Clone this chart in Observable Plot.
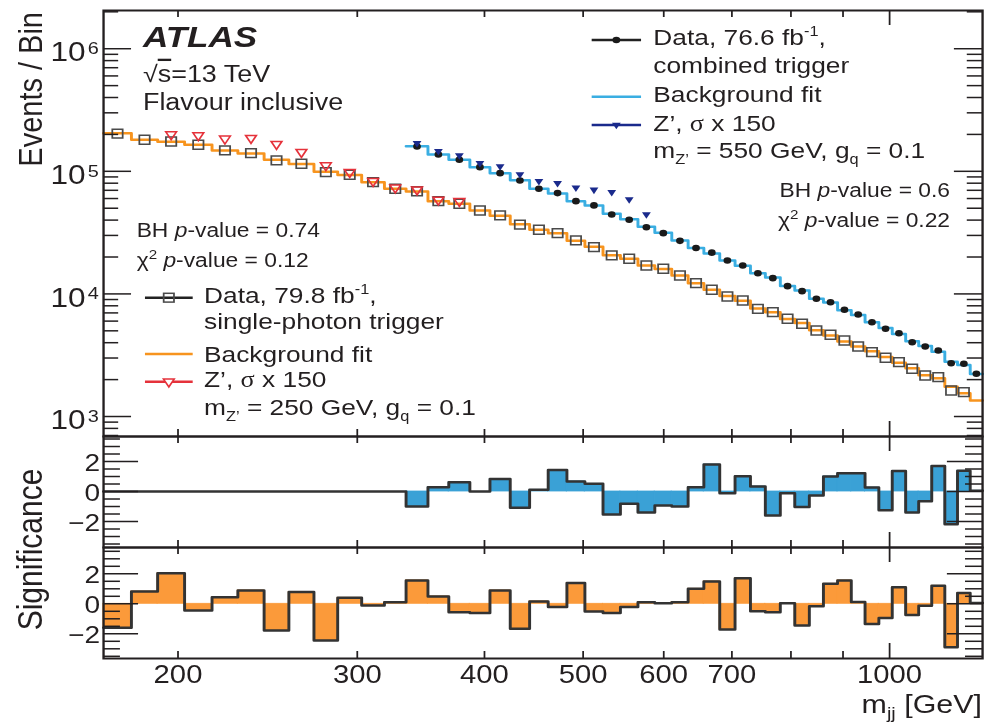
<!DOCTYPE html>
<html><head><meta charset="utf-8">
<script src="https://cdn.jsdelivr.net/npm/d3@7"></script>
<script src="https://cdn.jsdelivr.net/npm/@observablehq/plot@0.6"></script>
<style>
body{margin:0;background:#fff;}
#fig{position:relative;width:841px;height:723px;transform:scaleX(1.17);transform-origin:0 0;}
</style></head><body><div id="fig"></div>
<script>
// ---------------- data ----------------
const binEdges = [169,180,191,203,216,229,243,257,272,287,303,319,335,352,369,387,405,424,443,462,482,502,523,544,566,588,611,634,657,681,705,730,755,781,807,834,861,889,917,946,976,1006,1037,1068,1100,1133,1166,1200,1234];

// single-photon trigger (orange), bins 1..48
const photonData = [203000,181000,175000,164700,148000,140700,122700,115300,98400,93800,
 81600,72100,68800,57100,54400,47900,43700,36700,33400,31300,
 27300,24100,20600,19350,17060,16040,14140,12240,10810,9530,
 8840,7560,7100,6270,5710,5030,4640,4170,3725,3347,
 3013,2774,2450,2160,2093,1630,1579,null];
const photonFit = [204000,181000,174000,164500,148000,140000,124000,115000,99000,93500,
 81500,72000,68500,57000,54500,48000,43500,37000,33300,31300,
 27100,24200,20700,19400,17050,16000,14100,12200,10800,9600,
 8800,7600,7100,6250,5800,5050,4580,4100,3720,3400,
 3060,2740,2480,2170,2050,1750,1550,1350];
const photonZprimeStart = 2;  // first bin index with a Z' marker
const photonZprime = [200000,196100,184400,186500,166600,143400,111700,98400,83100,73500,70900,58600,57100];
const photonSignif = [-1.6,0.82,2.04,-0.44,0.44,0.89,-1.78,0.78,-2.44,0.4,
 -0.11,0.11,1.56,0.49,-0.56,-0.62,0.89,-1.67,0.16,-0.22,
 1.38,-0.51,-0.62,-0.22,0.11,0.04,0.11,1.0,1.49,-1.71,
 1.71,-0.49,-0.56,0.04,-1.44,-0.16,1.33,1.56,0.12,-1.35,
 -0.95,1.11,-0.75,-0.13,1.2,-2.89,0.72,0.05];

// combined trigger (blue), starting at bin 13
const combinedStart = 12;
const combinedData = [159500,137300,124300,108100,96600,84200,72100,66400,57100,52700,
 44500,40300,35000,31300,27100,23700,21700,18740,17060,14760,
 13440,11570,10530,9127,8560,7425,6796,5880,5195,4782,
 4039,3725,3455,2722,2692,2230];
const combinedFit = [160000,137000,124000,108100,96300,84500,72000,66000,57000,52600,
 45000,40600,35300,31500,27300,23700,21400,18760,16950,14720,
 13600,11600,10640,9150,8500,7360,6720,5860,5280,4700,
 4120,3760,3380,2800,2630,2220];
const combinedZprime = [169700,146100,134700,116600,109600,94300,83100,80100,73500,70700,67600,59000,44500];
const combinedSignif = [0,0,0,0,0,0,0,0,0,0,0,0,
 -1.0,0.29,0.62,0.0,0.84,-1.09,0.11,1.44,0.67,0.51,
 -1.53,-0.82,-1.4,-0.93,-1.0,0.29,1.8,-0.11,1.02,0.33,
 -1.6,-0.11,-1.04,-0.27,1.0,1.22,1.22,0.26,-1.25,1.36,
 -1.4,-0.65,1.7,-2.18,1.38,0.05];

// axes
const xTicks = [200,300,400,500,600,700,800,900];
const xMajorTicks = [1000];
const xTickLabels = [200,300,400,500,600,700,1000];
const yDecadeExps = [3,4,5,6];
const sigMajorTicks = [-2,0,2];
const sigTickLabels = ["−2","0","2"];
const sigMinorTicks = [-3.5,-3,-2.5,-1.5,-1,-0.5,0.5,1,1.5,2.5,3,3.5];

// ---------------- style ----------------
const FONT = '"Liberation Sans", Arial, Helvetica, sans-serif';
const INK = "#231f20";
const ORANGE = "#F7941E", ORANGE_FILL = "#FB9A3A";
const BLUE = "#3AAEE2", BLUE_FILL = "#3AA1D6";
const RED = "#E5323B", NAVY = "#1A2A8C";
const W = 841, ML = 88, MR = 1.7, FW = W - ML - MR;
const X_DOMAIN = [169, 1234];

const triDown = { draw(ctx, size) {
  const y = Math.sqrt(size / (Math.sqrt(3) * 3));
  ctx.moveTo(0, 2 * y); ctx.lineTo(-Math.sqrt(3) * y, -y); ctx.lineTo(Math.sqrt(3) * y, -y); ctx.closePath();
}};

function bins(vals, start = 0) {
  return vals.map((v, i) => ({lo: binEdges[start + i], hi: binEdges[start + i + 1], v})).filter(d => d.v != null);
}
function stepPts(b) { return b.flatMap(d => [{x: d.lo, y: d.v}, {x: d.hi, y: d.v}]); }
const center = d => Math.sqrt(d.lo * d.hi);

function xTickMarks(FH) {
  const o = {stroke: INK, strokeWidth: 1.5};
  return [
    Plot.ruleX(xTicks, {...o, insetTop: FH - 7}),
    Plot.ruleX(xTicks, {...o, insetBottom: FH - 7}),
    Plot.ruleX(xMajorTicks, {...o, insetTop: FH - 15}),
    Plot.ruleX(xMajorTicks, {...o, insetBottom: FH - 15})
  ];
}
function yTickMarks(major, minor, lenMaj, lenMin) {
  const o = {stroke: INK, strokeWidth: 1.5};
  return [
    Plot.ruleY(major, {...o, insetRight: FW - lenMaj}),
    Plot.ruleY(major, {...o, insetLeft: FW - lenMaj}),
    Plot.ruleY(minor, {...o, insetRight: FW - lenMin}),
    Plot.ruleY(minor, {...o, insetLeft: FW - lenMin})
  ];
}

const fig = document.getElementById("fig");
function panel(top, height, mt, mb, y, marks) {
  const p = Plot.plot({
    width: W, height, marginLeft: ML, marginRight: MR, marginTop: mt, marginBottom: mb,
    x: {type: "log", domain: X_DOMAIN, axis: null},
    y: {...y, axis: null},
    style: {fontFamily: FONT, background: "transparent", overflow: "visible", color: INK},
    marks
  });
  p.style.position = "absolute"; p.style.top = top + "px"; p.style.left = "0px";
  fig.appendChild(p);
}

// ---------------- top panel ----------------
const yLog = [687, 2.05e6];
const yDecades = yDecadeExps.map(e => 10 ** e);
const yMinor = d3.scaleLog().domain(yLog).ticks().filter(t => !yDecades.includes(t));
panel(0, 437, 10, 1, {type: "log", domain: yLog}, [
  Plot.line(stepPts(bins(photonFit)), {x: "x", y: "y", stroke: ORANGE, strokeWidth: 2.5}),
  Plot.line(stepPts(bins(combinedFit, combinedStart)), {x: "x", y: "y", stroke: BLUE, strokeWidth: 2.5}),
  Plot.dot(bins(photonData), {x: center, y: "v", symbol: "square", r: 5, stroke: "#4a4a4a", strokeWidth: 1.5, fill: "none"}),
  Plot.dot(bins(photonZprime, photonZprimeStart), {x: center, y: "v", symbol: triDown, r: 3.4, stroke: RED, strokeWidth: 1.5, fill: "none"}),
  Plot.dot(bins(combinedData, combinedStart), {x: center, y: "v", r: 3.3, fill: "#1a1a1a"}),
  Plot.dot(bins(combinedZprime, combinedStart), {x: center, y: "v", symbol: triDown, r: 2.8, fill: NAVY}),
  ...xTickMarks(426),
  ...yTickMarks(yDecades, yMinor, 24, 13),
  Plot.text(yDecadeExps, {y: e => 10 ** e, frameAnchor: "left", text: () => "10", textAnchor: "end", dx: -15.4, dy: 4, fontSize: 27, fill: INK}),
  Plot.text(yDecadeExps, {y: e => 10 ** e, frameAnchor: "left", text: e => String(e), textAnchor: "start", dx: -13.4, dy: 0, fontSize: 17, fill: INK}),
  Plot.frame({stroke: INK, strokeWidth: 2})
]);

// ---------------- significance panels ----------------
function sigPanel(top, height, mt, mb, domain, signif, fill, withLabels) {
  const b = bins(signif);
  const marks = [
    Plot.rect(b, {x1: "lo", x2: "hi", y1: 0, y2: "v", fill, stroke: fill, strokeWidth: 0.8}),
    Plot.line(stepPts(b), {x: "x", y: "y", stroke: "#333", strokeWidth: 2.5}),
    ...xTickMarks(111),
    ...yTickMarks(sigMajorTicks, sigMinorTicks, 30, 14.5),
    Plot.text(sigMajorTicks, {y: d => d, frameAnchor: "left", text: (d, i) => sigTickLabels[i], textAnchor: "end", dx: -3, dy: 2, fontSize: 24, fill: INK}),
    Plot.frame({stroke: INK, strokeWidth: 2})
  ];
  if (withLabels) marks.push(Plot.text(xTickLabels, {x: d => d, frameAnchor: "bottom", text: d => String(d), dy: 24, fontSize: 25, fill: INK}));
  panel(top, height, mt, mb, {domain}, marks);
}
sigPanel(435, 113, 1, 1, [-3.733, 3.667], combinedSignif, BLUE_FILL, false);
sigPanel(546, 177, 1, 65, [-3.647, 3.753], photonSignif, ORANGE_FILL, true);

// ---------------- annotations & legends ----------------
const ov = d3.select("#fig").append("svg").attr("width", W).attr("height", 723)
  .style("position", "absolute").style("top", "0px").style("left", "0px").style("overflow", "visible")
  .attr("font-family", FONT).attr("fill", INK);
function rich(x, y, parts, size, anchor = "start") {
  const t = ov.append("text").attr("x", x).attr("y", y).attr("font-size", size).attr("text-anchor", anchor);
  parts.forEach(p => {
    if (typeof p === "string") p = {t: p};
    const s = t.append("tspan").text(p.t);
    if (p.dy) s.attr("dy", p.dy);
    if (p.size) s.attr("font-size", p.size);
    if (p.italic) s.attr("font-style", "italic");
    if (p.family) s.attr("font-family", p.family);
    if (p.deco) s.style("text-decoration", p.deco);
  });
  return t;
}
const SERIF = '"Liberation Serif", "DejaVu Serif", serif';

rich(122.2, 46.7, ["ATLAS"], 30).attr("font-weight", "bold").attr("font-style", "italic");
rich(122.2, 81.7, ["√", {t: "s", deco: "overline"}, "=13 TeV"], 23);
rich(122.2, 110, ["Flavour inclusive"], 23);

// right legend (combined trigger)
const LX1 = 505.7, LX2 = 547.9, LXM = 526.8, TX = 558.4;
ov.append("line").attr("x1", LX1).attr("x2", LX2).attr("y1", 40).attr("y2", 40).attr("stroke", "#222").attr("stroke-width", 2.5);
ov.append("circle").attr("cx", LXM).attr("cy", 40).attr("r", 3.3).attr("fill", "#1a1a1a");
rich(TX, 45, ["Data, 76.6 fb", {t: "-1", size: 14, dy: -9}, {t: ",", dy: 9}], 22.5);
rich(TX, 73.3, ["combined trigger"], 22.5);
ov.append("line").attr("x1", LX1).attr("x2", LX2).attr("y1", 96.7).attr("y2", 96.7).attr("stroke", BLUE).attr("stroke-width", 2.5);
rich(TX, 101.7, ["Background fit"], 22.5);
ov.append("line").attr("x1", LX1).attr("x2", LX2).attr("y1", 125).attr("y2", 125).attr("stroke", NAVY).attr("stroke-width", 2.5);
ov.append("path").attr("d", d3.symbol(triDown, Math.PI * 2.8 * 2.8)()).attr("transform", `translate(${LXM},125)`).attr("fill", NAVY);
rich(TX, 130.7, ["Z’, ", {t: "σ", family: SERIF}, " x 150"], 22.5);
rich(TX, 158.3, ["m", {t: "Z’", size: 14, dy: 6}, {t: " = 550 GeV, g", dy: -6}, {t: "q", size: 14, dy: 6}, {t: " = 0.1", dy: -6}], 22.5);
rich(812, 196.7, ["BH ", {t: "p", italic: true}, "-value = 0.6"], 19.5, "end");
rich(812, 226.7, ["χ", {t: "2", size: 13, dy: -8}, {t: " ", dy: 8}, {t: "p", italic: true}, "-value = 0.22"], 19.5, "end");

// left legend (single-photon trigger)
const lx1 = 123.9, lx2 = 164.7, lxm = 144.3, tx = 174.4;
rich(116.8, 236.7, ["BH ", {t: "p", italic: true}, "-value = 0.74"], 19.5);
rich(116.8, 266.7, ["χ", {t: "2", size: 13, dy: -8}, {t: " ", dy: 8}, {t: "p", italic: true}, "-value = 0.12"], 19.5);
ov.append("line").attr("x1", lx1).attr("x2", lx2).attr("y1", 297.7).attr("y2", 297.7).attr("stroke", "#222").attr("stroke-width", 2.5);
ov.append("rect").attr("x", lxm - 4.4).attr("y", 297.7 - 4.4).attr("width", 8.8).attr("height", 8.8).attr("fill", "none").attr("stroke", "#4a4a4a").attr("stroke-width", 1.5);
rich(tx, 303.3, ["Data, 79.8 fb", {t: "-1", size: 14, dy: -9}, {t: ",", dy: 9}], 22.5);
rich(tx, 329.3, ["single-photon trigger"], 22.5);
ov.append("line").attr("x1", lx1).attr("x2", lx2).attr("y1", 354).attr("y2", 354).attr("stroke", ORANGE).attr("stroke-width", 2.5);
rich(tx, 361.7, ["Background fit"], 22.5);
ov.append("line").attr("x1", lx1).attr("x2", lx2).attr("y1", 381.7).attr("y2", 381.7).attr("stroke", RED).attr("stroke-width", 2.5);
ov.append("path").attr("d", d3.symbol(triDown, Math.PI * 3.4 * 3.4)()).attr("transform", `translate(${lxm},381.7)`).attr("fill", "white").attr("stroke", RED).attr("stroke-width", 1.5);
rich(tx, 386.7, ["Z’, ", {t: "σ", family: SERIF}, " x 150"], 22.5);
rich(tx, 415, ["m", {t: "Z’", size: 14, dy: 6}, {t: " = 250 GeV, g", dy: -6}, {t: "q", size: 14, dy: 6}, {t: " = 0.1", dy: -6}], 22.5);

// axis titles
ov.append("text").attr("transform", "translate(35.6,12) rotate(-90)").attr("text-anchor", "end").attr("font-size", 29).text("Events / Bin");
ov.append("text").attr("transform", "translate(35.9,549.5) rotate(-90)").attr("text-anchor", "middle").attr("font-size", 30).text("Significance");
rich(839.3, 713, ["m", {t: "jj", size: 17, dy: 6}, {t: " [GeV]", dy: -6}], 26, "end");
</script></body></html>
